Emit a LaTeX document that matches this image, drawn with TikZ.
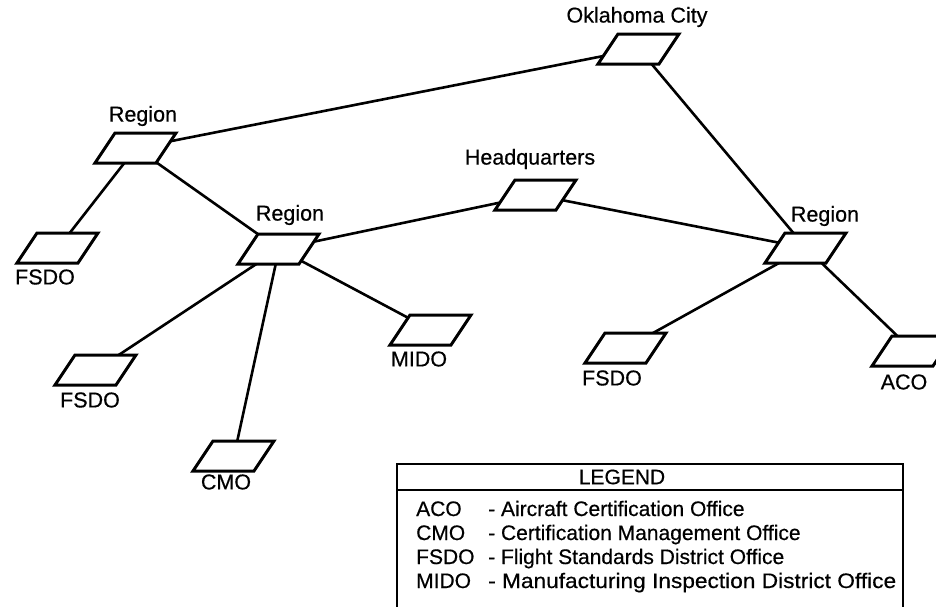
\documentclass[tikz,border=0pt]{standalone}
\usepackage{fontspec}
\setmainfont{Liberation Sans}
\newfontfamily\scanfont[FakeBold=0.5]{Liberation Sans}
\begin{document}
\begin{tikzpicture}[x=1pt,y=-1pt,
  office/.style={draw, line width=3pt, fill=white, line join=miter},
  conn/.style={line width=2.6pt},
  lbl/.style={font=\scanfont\fontsize{21.5}{24}\selectfont, inner sep=0pt},
  leg/.style={font=\scanfont\fontsize{21}{23}\selectfont, inner sep=0pt, anchor=base west}]
\newcommand\officebox[1]{\filldraw[office, shift={(#1)}] (-41,15) -- (20,15) -- (40,-15) -- (-21,-15) -- cycle;}
\useasboundingbox (0,0) rectangle (936,606);
% office centres
\coordinate (okc) at (639,49);
\coordinate (r1)  at (136,148);
\coordinate (hq)  at (536,195);
\coordinate (r2)  at (279,249);
\coordinate (r3)  at (806,248);
\coordinate (f1)  at (58,248);
\coordinate (f2)  at (96,370);
\coordinate (mido) at (431,330);
\coordinate (cmo) at (234,456);
\coordinate (f3)  at (626,348);
\coordinate (aco) at (913,351);
% connectors
\draw[conn] (r1) -- (okc);
\draw[conn] (okc) -- (r3);
\draw[conn] (r1) -- (f1);
\draw[conn] (r1) -- (r2);
\draw[conn] (r2) -- (hq);
\draw[conn] (hq) -- (r3);
\draw[conn] (r2) -- (f2);
\draw[conn] (r2) -- (cmo);
\draw[conn] (r2) -- (mido);
\draw[conn] (r3) -- (f3);
\draw[conn] (r3) -- (aco);
% office shapes
\officebox{okc}
\officebox{r1}
\officebox{hq}
\officebox{r2}
\officebox{r3}
\officebox{f1}
\officebox{f2}
\officebox{mido}
\officebox{cmo}
\officebox{f3}
\officebox{aco}
% labels
\node[lbl] (lokc) at (637,17) {Oklahoma City};
\node[lbl] (lr1)  at (143,116) {Region};
\node[lbl] (lhq)  at (530,159) {Headquarters};
\node[lbl] (lr2)  at (290,215) {Region};
\node[lbl] (lr3)  at (825,216) {Region};
\node[lbl] (lf1)  at (45,277) {FSDO};
\node[lbl] (lf2)  at (90,400) {FSDO};
\node[lbl] (lmido) at (419,359) {MIDO};
\node[lbl] (lcmo) at (226,482) {CMO};
\node[lbl] (lf3)  at (612,378) {FSDO};
\node[lbl] (laco) at (904,382) {ACO};
% legend
\draw[line width=2.2pt] (397,612) -- (397,464) -- (903,464) -- (903,612);
\draw[line width=1.8pt] (397,490) -- (903,490);
\node[font=\scanfont\fontsize{21}{23}\selectfont, inner sep=0pt] (legt) at (622,477) {LEGEND};
\node[leg] (a1) at (416,516) {ACO};
\node[leg] (a2) at (416,540) {CMO};
\node[leg] (a3) at (416,564) {FSDO};
\node[leg] (a4) at (416,588) {MIDO};
\node[leg] (d1) at (488,516) {- Aircraft Certification Office};
\node[leg] (d2) at (488,540) {- Certification Management Office};
\node[leg] (d3) at (488,564) {- Flight Standards District Office};
\node[leg, xscale=1.08] (d4) at (488,588) {- Manufacturing Inspection District Office};
\end{tikzpicture}
\end{document}
